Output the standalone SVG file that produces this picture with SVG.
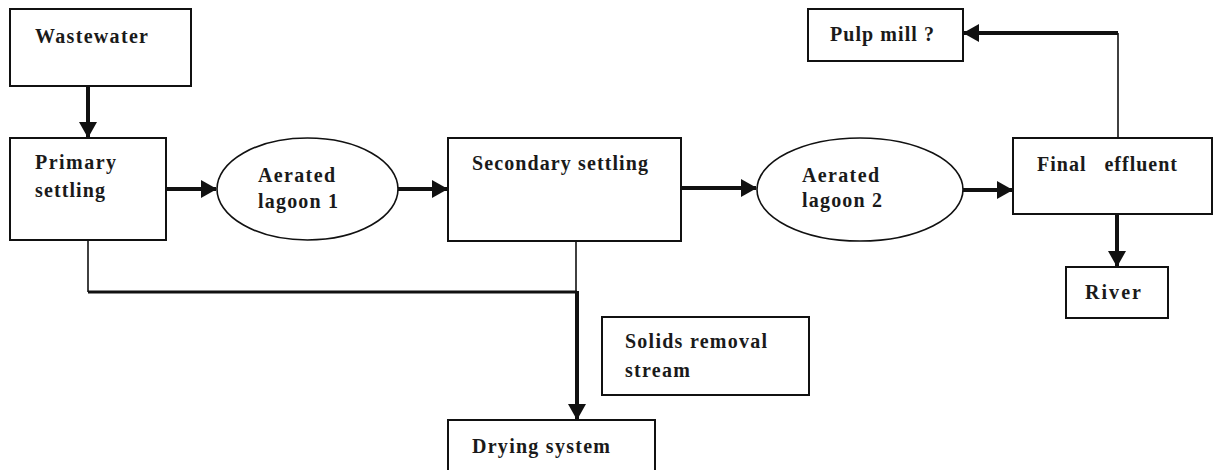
<svg xmlns="http://www.w3.org/2000/svg" width="1214" height="470" viewBox="0 0 1214 470">
<style>
.box{fill:#fff;stroke:#111;stroke-width:2}
.ell{fill:#fff;stroke:#111;stroke-width:1.6}
.t{font-family:"Liberation Serif","Times New Roman",serif;font-weight:bold;font-size:20px;fill:#1a1a1a;white-space:pre}
.thick{fill:none;stroke:#111;stroke-width:4}
.mid{fill:none;stroke:#111;stroke-width:3}
.thin{fill:none;stroke:#111;stroke-width:1.6}
</style>
<defs>
<marker id="ah" markerUnits="userSpaceOnUse" markerWidth="16" markerHeight="18" viewBox="0 0 16 18" refX="15" refY="9" orient="auto">
<path d="M0,0 L16,9 L0,18 Z" fill="#111"/>
</marker>
</defs>
<rect width="1214" height="470" fill="#fff"/>
<g id="connectors">
<line class="thick" x1="88" y1="86" x2="88" y2="137" marker-end="url(#ah)"/>
<line class="thick" x1="166" y1="189" x2="216" y2="189" marker-end="url(#ah)"/>
<line class="thick" x1="398" y1="189" x2="447" y2="189" marker-end="url(#ah)"/>
<line class="thick" x1="681" y1="188" x2="756" y2="188" marker-end="url(#ah)"/>
<line class="thick" x1="963" y1="190" x2="1012" y2="190" marker-end="url(#ah)"/>
<polyline class="thin" points="1118,138 1118,33"/>
<line class="thick" x1="1118" y1="33" x2="964" y2="33" marker-end="url(#ah)"/>
<line class="thick" x1="1117" y1="214" x2="1117" y2="266" marker-end="url(#ah)"/>
<polyline class="thin" points="88,240 88,292"/>
<line class="mid" x1="88" y1="292" x2="577" y2="292"/>
<line class="thin" x1="576" y1="241" x2="576" y2="292"/>
<line class="thick" x1="577" y1="291" x2="577" y2="419" marker-end="url(#ah)"/>
</g>
<g id="wastewater"><rect class="box" x="10" y="9" width="181" height="77"/><text class="t" x="35" y="43" textLength="113" lengthAdjust="spacing">Wastewater</text></g>
<g id="primary"><rect class="box" x="10" y="138" width="156" height="102"/><text class="t" x="35" y="169" textLength="81" lengthAdjust="spacing">Primary</text><text class="t" x="35" y="197" textLength="70" lengthAdjust="spacing">settling</text></g>
<g id="lagoon1"><ellipse class="ell" cx="307.5" cy="189" rx="90.5" ry="51"/><text class="t" x="258" y="182" textLength="77" lengthAdjust="spacing">Aerated</text><text class="t" x="258" y="208" textLength="80" lengthAdjust="spacing">lagoon 1</text></g>
<g id="secondary"><rect class="box" x="448" y="138" width="233" height="103"/><text class="t" x="472" y="170" textLength="176" lengthAdjust="spacing">Secondary settling</text></g>
<g id="lagoon2"><ellipse class="ell" cx="860" cy="189.5" rx="103" ry="51.5"/><text class="t" x="802" y="182" textLength="77" lengthAdjust="spacing">Aerated</text><text class="t" x="802" y="207" textLength="80" lengthAdjust="spacing">lagoon 2</text></g>
<g id="final"><rect class="box" x="1013" y="138" width="199" height="76"/><text class="t" x="1037" y="171" textLength="140" lengthAdjust="spacing" xml:space="preserve">Final   effluent</text></g>
<g id="pulpmill"><rect class="box" x="808" y="9" width="155" height="52"/><text class="t" x="830" y="41" textLength="104" lengthAdjust="spacing">Pulp mill ?</text></g>
<g id="river"><rect class="box" x="1066" y="267" width="102" height="51"/><text class="t" x="1085" y="299" textLength="56" lengthAdjust="spacing">River</text></g>
<g id="solids"><rect class="box" x="602" y="317" width="207" height="78"/><text class="t" x="625" y="348" textLength="142" lengthAdjust="spacing">Solids removal</text><text class="t" x="625" y="377" textLength="65" lengthAdjust="spacing">stream</text></g>
<g id="drying"><rect class="box" x="448" y="420" width="207" height="60"/><text class="t" x="472" y="453" textLength="138" lengthAdjust="spacing">Drying system</text></g>
</svg>
